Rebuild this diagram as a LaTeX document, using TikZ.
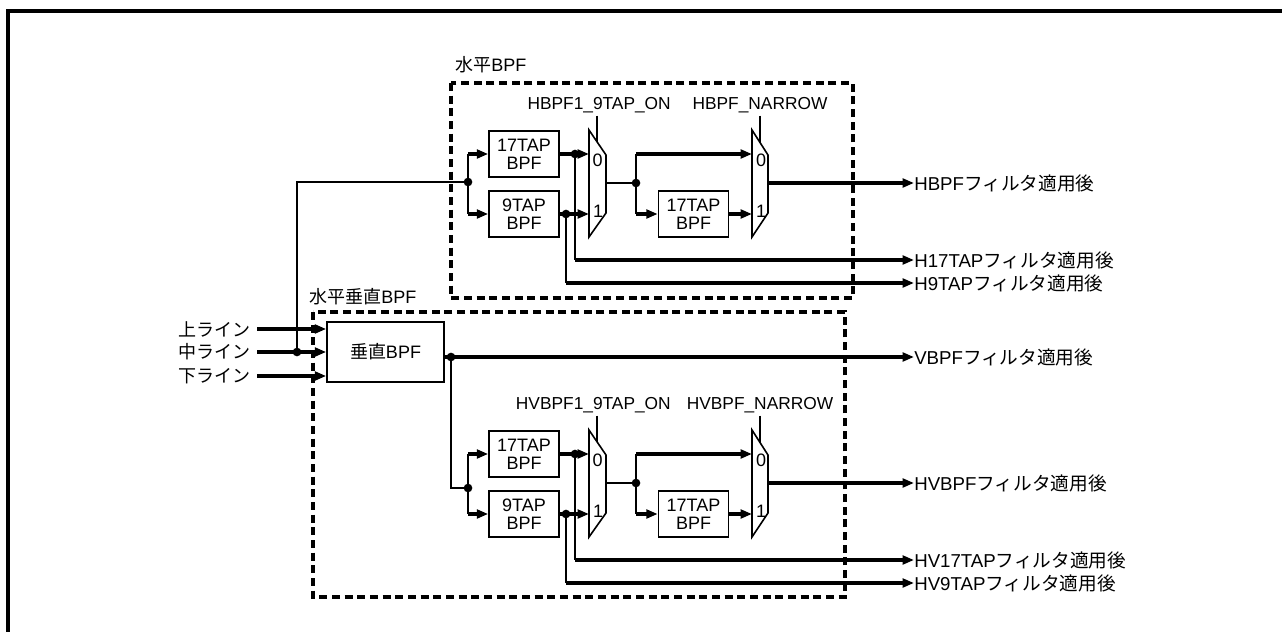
\documentclass[tikz,border=0pt]{standalone}
\usepackage{fontspec}
\setmainfont{Liberation Sans}
\newfontfamily\cjk{Noto Sans CJK JP}
\usetikzlibrary{arrows.meta}
\begin{document}
\begin{tikzpicture}[x=0.75pt,y=-0.75pt,
  bus/.style={line width=2.6pt},
  wire/.style={line width=1.2pt},
  arr/.style={-{Triangle[length=8.5pt,width=6.5pt]}},
  blk/.style={draw, line width=1.2pt, minimum width=52.5pt, minimum height=34.5pt,
              inner sep=0pt, align=center, font=\fontsize{13.5}{13.5}\selectfont},
  dot/.style={circle, fill=black, inner sep=0pt, minimum size=6.5pt},
  grp/.style={draw, line width=2.6pt, dash pattern=on 6pt off 3.5pt},
  lbl/.style={inner sep=0pt, font=\fontsize{13}{15}\selectfont},
  txt/.style={inner sep=0pt, font=\fontsize{13.5}{15}\selectfont},
  otxt/.style={inner sep=0pt, font=\fontsize{14}{15}\selectfont},
  muxs/.style={draw, line width=1.2pt}]
\useasboundingbox (0,0) rectangle (1282,632);
% outer frame
\draw[line width=2.6pt] (8,632) -- (8,11) -- (1282,11);

% group boxes
\draw[grp] (451,83) rectangle (853,298);
\node[txt, anchor=west] (gH) at (455,65) {{\cjk 水平}BPF};
\draw[grp] (313,312) rectangle (845,597);
\node[txt, anchor=west] (gV) at (309,297) {{\cjk 水平垂直}BPF};

% repeated filter block
\foreach \p/\dy/\jy/\lab in {H/0/182/H, V/300/488/HV} {
  \coordinate (\p J) at (468,\jy);
  \node[blk] (\p A) at (524,154+\dy) {17TAP\\BPF};
  \node[blk] (\p B) at (524,214+\dy) {9TAP\\BPF};
  \node[blk] (\p C) at (693.5,214+\dy) {17TAP\\BPF};
  % muxes
  \draw[muxs] (589,130+\dy) -- (606,155+\dy) -- (606,213+\dy) -- (589,237+\dy) -- cycle;
  \draw[muxs] (752,130+\dy) -- (768,155+\dy) -- (768,213+\dy) -- (752,237+\dy) -- cycle;
  \coordinate (\p M1a) at (589,154+\dy);
  \coordinate (\p M1b) at (589,214+\dy);
  \coordinate (\p M1o) at (606,183+\dy);
  \coordinate (\p M2a) at (752,154+\dy);
  \coordinate (\p M2b) at (752,214+\dy);
  \coordinate (\p M2o) at (768,183+\dy);
  \coordinate (\p S1) at (597,142+\dy);
  \coordinate (\p S2) at (760,142.5+\dy);
  \node[txt] (\p z1) at (597.5,160.5+\dy) {0};
  \node[txt] (\p o1) at (598,211.5+\dy) {1};
  \node[txt] (\p z2) at (761,160.5+\dy) {0};
  \node[txt] (\p o2) at (761,211.5+\dy) {1};
  % select labels
  \node[lbl, anchor=base east] (\p L1) at (671,109+\dy) {\lab BPF1\_9TAP\_ON};
  \node[lbl, anchor=base] (\p L2) at (760,109+\dy) {\lab BPF\_NARROW};
  \draw[wire] (\p S1 |- \p L1.south) ++(0,3) -- (\p S1);
  \draw[wire] (\p S2 |- \p L2.south) ++(0,3) -- (\p S2);
  % junction points
  \coordinate (\p DA) at (575,154+\dy);
  \coordinate (\p DB) at (566,214+\dy);
  \coordinate (\p DC) at (636,183+\dy);
  % outputs
  \node[otxt, anchor=west] (\p O1) at (914,183+\dy) {\lab BPF{\cjk フィルタ適用後}};
  \node[otxt, anchor=west] (\p O2) at (914,260+\dy) {\lab 17TAP{\cjk フィルタ適用後}};
  \node[otxt, anchor=west] (\p O3) at (914,283+\dy) {\lab 9TAP{\cjk フィルタ適用後}};
  % connections
  \draw[wire] (\p J |- \p A) -- (\p J |- \p B);
  \draw[bus,arr] (\p J |- \p A) -- (\p A.west);
  \draw[bus,arr] (\p J |- \p B) -- (\p B.west);
  \draw[bus,arr] (\p A.east) -- (\p M1a);
  \draw[bus,arr] (\p B.east) -- (\p M1b);
  \draw[wire] (\p M1o) -- (\p DC);
  \draw[wire] (\p DC |- \p M2a) -- (\p DC |- \p C);
  \draw[bus,arr] (\p DC |- \p M2a) -- (\p M2a);
  \draw[bus,arr] (\p DC |- \p C) -- (\p C.west);
  \draw[bus,arr] (\p C.east) -- (\p M2b);
  \draw[bus,arr] (\p M2o) -- (\p O1.west);
  \draw[wire] (\p DA) -- (\p DA |- \p O2);
  \draw[bus,arr] (\p DA |- \p O2) -- (\p O2.west);
  \draw[wire] (\p DB) -- (\p DB |- \p O3);
  \draw[bus,arr] (\p DB |- \p O3) -- (\p O3.west);
  \node[dot] (\p dJ) at (\p J) {};
  \node[dot] (\p dA) at (\p DA) {};
  \node[dot] (\p dB) at (\p DB) {};
  \node[dot] (\p dC) at (\p DC) {};
}

% vertical BPF and inputs
\node[draw, line width=1.2pt, minimum width=87.75pt, minimum height=45pt, inner sep=0pt,
      font=\fontsize{13.5}{15}\selectfont] (VB) at (385.5,352) {{\cjk 垂直}BPF};
\node[txt, anchor=east, inner xsep=4.5pt] (in1) at (257,329) {\cjk 上ライン};
\node[txt, anchor=east, inner xsep=4.5pt] (in2) at (257,352) {\cjk 中ライン};
\node[txt, anchor=east, inner xsep=4.5pt] (in3) at (257,376) {\cjk 下ライン};
\draw[bus,arr] (in1.east) -- (VB.west |- in1.east);
\draw[bus,arr] (in2.east) -- (VB.west |- in2.east);
\draw[bus,arr] (in3.east) -- (VB.west |- in3.east);
\coordinate (MJ) at (297,352);
\draw[wire] (MJ) |- (HJ);
\node[dot] (dMJ) at (MJ) {};
\coordinate (VD) at (451,357);
\node[otxt, anchor=west] (VO) at (914,357) {VBPF{\cjk フィルタ適用後}};
\draw[bus,arr] (VB.east |- VD) -- (VO.west);
\draw[wire] (VD) |- (VJ);
\node[dot] (dVD) at (VD) {};
\end{tikzpicture}
\end{document}
